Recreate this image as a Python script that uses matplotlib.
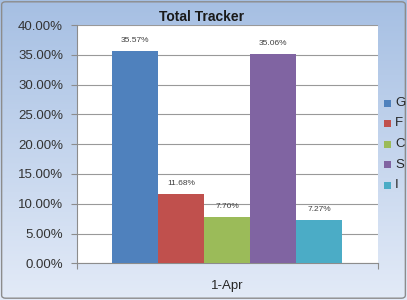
import numpy as np
import matplotlib
matplotlib.use("Agg")
import matplotlib.pyplot as plt
from matplotlib.patches import Rectangle, FancyBboxPatch
from matplotlib.ticker import FuncFormatter

plt.rcParams["font.family"] = ["Liberation Sans", "DejaVu Sans"]

# ===========================
# Data
# ===========================

series = ["G", "F", "C", "S", "I"]
values = [35.57, 11.68, 7.70, 35.06, 7.27]
colors = ["#4f81bd", "#c0504d", "#9bbb59", "#8064a2", "#4bacc6"]
category = "1-Apr"

W, H = 407, 300

fig = plt.figure(figsize=(W / 100, H / 100), dpi=100)

# gradient background
bg = fig.add_axes([0, 0, 1, 1])
grad = np.linspace(0, 1, 256).reshape(-1, 1)
top = np.array([0.65, 0.75, 0.89])
bot = np.array([0.89, 0.92, 0.97])
img = top + (bot - top) * grad[:, :, None]
bg.imshow(img, aspect="auto", extent=[0, 1, 0, 1], origin="upper")
bg.add_patch(FancyBboxPatch((0.004, 0.006), 0.992, 0.988,
                            boxstyle="round,pad=0,rounding_size=0.01",
                            fill=False, edgecolor="#8c8c8c", linewidth=1.0,
                            transform=bg.transAxes))
bg.set_xlim(0, 1)
bg.set_ylim(0, 1)
bg.axis("off")

# plot area
left, right = 77 / W, 377.5 / W
top_y, bot_y = 25 / H, 263.3 / H
ax = fig.add_axes([left, 1 - bot_y, right - left, bot_y - top_y])
ax.set_facecolor("white")

bar_w = 230 / 300 / len(series)
x = (np.arange(len(series)) - (len(series) - 1) / 2) * bar_w

bars = ax.bar(x, values, width=bar_w, color=colors, label=series, zorder=3)

for xi, v in zip(x, values):
    ax.text(xi, v + 1.2, f"{v:.2f}%", ha="center", va="bottom",
            fontsize=6, color="#404040", zorder=4)

ax.set_xlim(-0.5, 0.5)
ax.set_ylim(0, 40)
ax.set_yticks(np.arange(0, 40.1, 5))
ax.yaxis.set_major_formatter(FuncFormatter(lambda v, p: f"{v:.2f}%"))
ax.grid(axis="y", color="#999999", linewidth=0.8, zorder=0)
ax.set_xticks([-0.5, 0.5])
ax.set_xticklabels(["", ""])
ax.tick_params(axis="x", length=4, color="#8c8c8c", direction="out")
ax.tick_params(axis="y", length=4, color="#8c8c8c", direction="out",
               labelsize=9.5, labelcolor="#333333", pad=6)

for s in ["top", "right"]:
    ax.spines[s].set_visible(False)
for s in ["left", "bottom"]:
    ax.spines[s].set_color("#8c8c8c")
    ax.spines[s].set_linewidth(0.8)

ax.text(0.5, -0.07, category, transform=ax.transAxes, ha="center", va="top",
        fontsize=9.5, color="#262626")

fig.text(202 / W, 1 - 17 / H, "Total Tracker", ha="center", va="center",
         fontsize=10, fontweight="bold", color="#1a1a1a")

# legend
leg_y = [103, 123.5, 144, 164.5, 185]
for name, c, yy in zip(series, colors, leg_y):
    fig.patches.append(Rectangle((384 / W, 1 - (yy + 3.5) / H), 7 / W, 7 / H,
                                 transform=fig.transFigure, facecolor=c,
                                 edgecolor="none"))
    fig.text(395 / W, 1 - yy / H, name, ha="left", va="center",
             fontsize=9.5, color="#262626")

fig.savefig("out.png", dpi=100)
